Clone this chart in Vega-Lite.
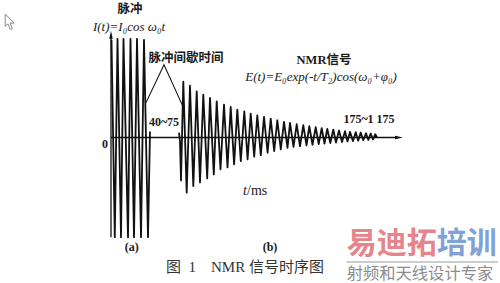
{
  "$schema": "https://vega.github.io/schema/vega-lite/v6.json",
  "width": 500,
  "height": 283,
  "autosize": {"type": "fit", "contains": "padding"},
  "padding": 0,
  "background": "white",
  "config": {"view": {"stroke": null}},
  "datasets": {
    "pulse": [
      {"t": 0.5, "a": 0.98}, {"t": 3.8, "a": -1.0}, {"t": 6.5, "a": 0.99}, {"t": 10, "a": -1.0},
      {"t": 12.5, "a": 0.99}, {"t": 17, "a": -1.0}, {"t": 19.5, "a": 0.99}, {"t": 23, "a": -1.0},
      {"t": 26, "a": 0.99}, {"t": 30, "a": -1.0}, {"t": 33, "a": 0.98}, {"t": 37, "a": -1.0},
      {"t": 39, "a": 0.06}
    ],
    "fid": [
      {"t": 68, "a": 0.05}, {"t": 69, "a": -0.04}, {"t": 70, "a": -0.43}, {"t": 72.3, "a": 0.56},
      {"t": 75.7, "a": -0.553}, {"t": 79, "a": 0.52}, {"t": 82.3, "a": -0.487}, {"t": 85.7, "a": 0.463},
      {"t": 89, "a": -0.45}, {"t": 92.3, "a": 0.43}, {"t": 96.2, "a": -0.41}, {"t": 99, "a": 0.397},
      {"t": 102.8, "a": -0.37}, {"t": 105.7, "a": 0.363}, {"t": 109.5, "a": -0.32}, {"t": 113, "a": 0.33},
      {"t": 116.5, "a": -0.30}, {"t": 119.7, "a": 0.307}, {"t": 123.1, "a": -0.27}, {"t": 126.3, "a": 0.28},
      {"t": 129.8, "a": -0.237}, {"t": 133.3, "a": 0.263}, {"t": 136.6, "a": -0.22}, {"t": 139.7, "a": 0.24},
      {"t": 143.2, "a": -0.193}, {"t": 146.3, "a": 0.223}, {"t": 149.8, "a": -0.18}, {"t": 153, "a": 0.207},
      {"t": 156.6, "a": -0.153}, {"t": 159.7, "a": 0.19}, {"t": 163.2, "a": -0.137}, {"t": 166.3, "a": 0.173},
      {"t": 169.8, "a": -0.12}, {"t": 173, "a": 0.157}, {"t": 176.5, "a": -0.103}, {"t": 179, "a": 0.147},
      {"t": 182.5, "a": -0.095}, {"t": 185.7, "a": 0.133}, {"t": 189, "a": -0.088}, {"t": 192.3, "a": 0.123},
      {"t": 195.5, "a": -0.08}, {"t": 198.3, "a": 0.113}, {"t": 201.5, "a": -0.073}, {"t": 204.7, "a": 0.103},
      {"t": 207.7, "a": -0.067}, {"t": 210.7, "a": 0.093}, {"t": 213.5, "a": -0.06}, {"t": 216.3, "a": 0.087},
      {"t": 219.3, "a": -0.055}, {"t": 222.3, "a": 0.08}, {"t": 225, "a": -0.05}, {"t": 228, "a": 0.07},
      {"t": 231, "a": -0.045}, {"t": 234, "a": 0.063}, {"t": 236.5, "a": -0.04}, {"t": 239, "a": 0.057},
      {"t": 242, "a": -0.036}, {"t": 244.7, "a": 0.053}, {"t": 247.2, "a": -0.032}, {"t": 249.7, "a": 0.05},
      {"t": 252.3, "a": -0.028}, {"t": 255, "a": 0.043}, {"t": 257.3, "a": -0.025}, {"t": 259.7, "a": 0.04},
      {"t": 262, "a": -0.02}, {"t": 264.3, "a": 0.033}, {"t": 266, "a": 0}
    ],
    "axes": [
      {"t": 0, "a": -1.0, "t2": 0, "a2": 1.03},
      {"t": 0, "a": 0, "t2": 287, "a2": 0}
    ],
    "heads": [
      {"dir": "up", "t": 0, "a": 1.02},
      {"dir": "right", "t": 287, "a": 0}
    ],
    "bracket": [
      {"t": 35, "a": 0.35}, {"t": 53, "a": 0.73}, {"t": 72, "a": 0.31}
    ],
    "cursor": [
      {"t": -101, "a": 1.16}
    ],
    "notes": [
      {"kind": "cjk", "label": "脉冲", "t": 19, "a": 1.29},
      {"kind": "cjk", "label": "脉冲间歇时间", "t": 75, "a": 0.80},
      {"kind": "cjk", "label": "NMR信号", "t": 213, "a": 0.78},
      {"kind": "formula", "label": "I(t)=I₀cos ω₀t", "t": 18, "a": 1.11},
      {"kind": "formula", "label": "E(t)=E₀exp(-t/T₂)cos(ω₀+φ₀)", "t": 210, "a": 0.61},
      {"kind": "num", "label": "40~75", "t": 53, "a": 0.16},
      {"kind": "num", "label": "175~1 175", "t": 258, "a": 0.19},
      {"kind": "num", "label": "0", "t": -6, "a": -0.07},
      {"kind": "num", "label": "(a)", "t": 20.7, "a": -1.1},
      {"kind": "num", "label": "(b)", "t": 159, "a": -1.1},
      {"kind": "unitvar", "label": "t", "t": 136, "a": -0.54},
      {"kind": "unit", "label": "/ms", "t": 136, "a": -0.54},
      {"kind": "caption", "label": "图\u00a0\u00a01\u00a0\u00a0\u00a0\u00a0NMR\u00a0信号时序图", "t": 134, "a": -1.30},
      {"kind": "markred", "label": "易迪拓", "t": 235.7, "a": -1.07},
      {"kind": "markblue", "label": "培训", "t": 325.7, "a": -1.07},
      {"kind": "markgray", "label": "射频和天线设计专家", "t": 235.7, "a": -1.37}
    ],
    "markline": [
      {"t": 235.5, "a": -1.25, "t2": 387, "a2": -1.25}
    ]
  },
  "encoding": {
    "x": {"field": "t", "type": "quantitative", "scale": {"domain": [-111, 389], "nice": false, "zero": false}, "axis": null},
    "y": {"field": "a", "type": "quantitative", "scale": {"domain": [-1.45, 1.38], "nice": false, "zero": false}, "axis": null}
  },
  "layer": [
    {
      "data": {"name": "cursor"},
      "mark": {"type": "point", "shape": "M-0.6,-1L-0.6,0.55L-0.25,0.25L0.05,0.95L0.3,0.85L0,0.15L0.5,0.15Z", "size": 256, "filled": true, "fill": "white", "stroke": "#8a8a8a", "strokeWidth": 1, "opacity": 1}
    },
    {
      "data": {"name": "notes"},
      "transform": [{"filter": "datum.kind === 'cjk'"}],
      "mark": {"type": "text", "font": "Liberation Serif, Noto Sans CJK SC", "fontSize": 12.5, "fontWeight": "bold", "color": "#1a1a1a", "align": "center", "baseline": "middle"},
      "encoding": {"text": {"field": "label"}}
    },
    {
      "data": {"name": "notes"},
      "transform": [{"filter": "datum.kind === 'formula'"}],
      "mark": {"type": "text", "font": "Liberation Serif, DejaVu Serif", "fontSize": 13, "fontStyle": "italic", "color": "#1a1a1a", "align": "center", "baseline": "middle"},
      "encoding": {"text": {"field": "label"}}
    },
    {
      "data": {"name": "notes"},
      "transform": [{"filter": "datum.kind === 'num'"}],
      "mark": {"type": "text", "font": "Liberation Serif", "fontSize": 12, "fontWeight": "bold", "color": "#1a1a1a", "align": "center", "baseline": "middle"},
      "encoding": {"text": {"field": "label"}}
    },
    {
      "data": {"name": "notes"},
      "transform": [{"filter": "datum.kind === 'unitvar'"}],
      "mark": {"type": "text", "font": "Liberation Serif", "fontSize": 14, "fontStyle": "italic", "color": "#1a1a1a", "align": "right", "baseline": "middle"},
      "encoding": {"text": {"field": "label"}}
    },
    {
      "data": {"name": "notes"},
      "transform": [{"filter": "datum.kind === 'unit'"}],
      "mark": {"type": "text", "font": "Liberation Serif", "fontSize": 14, "color": "#1a1a1a", "align": "left", "baseline": "middle"},
      "encoding": {"text": {"field": "label"}}
    },
    {
      "data": {"name": "notes"},
      "transform": [{"filter": "datum.kind === 'caption'"}],
      "mark": {"type": "text", "font": "Liberation Serif, Noto Sans CJK SC", "fontSize": 15, "color": "#333333", "align": "center", "baseline": "middle"},
      "encoding": {"text": {"field": "label"}}
    },
    {
      "data": {"name": "markline"},
      "mark": {"type": "rule", "color": "#bdbdbd", "strokeWidth": 1.5},
      "encoding": {"x2": {"field": "t2"}, "y2": {"field": "a2"}}
    },
    {
      "data": {"name": "notes"},
      "transform": [{"filter": "datum.kind === 'markred'"}],
      "mark": {"type": "text", "font": "Noto Sans CJK SC", "fontSize": 30, "fontWeight": "bold", "color": "#e5848a", "align": "left", "baseline": "middle"},
      "encoding": {"text": {"field": "label"}}
    },
    {
      "data": {"name": "notes"},
      "transform": [{"filter": "datum.kind === 'markblue'"}],
      "mark": {"type": "text", "font": "Noto Sans CJK SC", "fontSize": 30, "fontWeight": "bold", "color": "#80a2d6", "align": "left", "baseline": "middle"},
      "encoding": {"text": {"field": "label"}}
    },
    {
      "data": {"name": "notes"},
      "transform": [{"filter": "datum.kind === 'markgray'"}],
      "mark": {"type": "text", "font": "Noto Sans CJK SC", "fontSize": 16.3, "color": "#8c8c8c", "align": "left", "baseline": "middle"},
      "encoding": {"text": {"field": "label"}}
    },
    {
      "data": {"name": "axes"},
      "mark": {"type": "rule", "color": "#111111", "strokeWidth": 1.3},
      "encoding": {"x2": {"field": "t2"}, "y2": {"field": "a2"}}
    },
    {
      "data": {"name": "heads"},
      "transform": [{"filter": "datum.dir === 'up'"}],
      "mark": {"type": "point", "shape": "M0,-1L0.35,0.6L-0.35,0.6Z", "size": 100, "filled": true, "color": "#111111", "opacity": 1}
    },
    {
      "data": {"name": "heads"},
      "transform": [{"filter": "datum.dir === 'right'"}],
      "mark": {"type": "point", "shape": "M1,0L-0.6,0.35L-0.6,-0.35Z", "size": 100, "filled": true, "color": "#111111", "opacity": 1}
    },
    {
      "data": {"name": "bracket"},
      "mark": {"type": "line", "color": "#111111", "strokeWidth": 1.1}
    },
    {
      "data": {"name": "pulse"},
      "mark": {"type": "line", "color": "#111111", "strokeWidth": 1.8, "strokeJoin": "round"}
    },
    {
      "data": {"name": "fid"},
      "mark": {"type": "line", "color": "#111111", "strokeWidth": 1.8, "strokeJoin": "round"}
    }
  ]
}
